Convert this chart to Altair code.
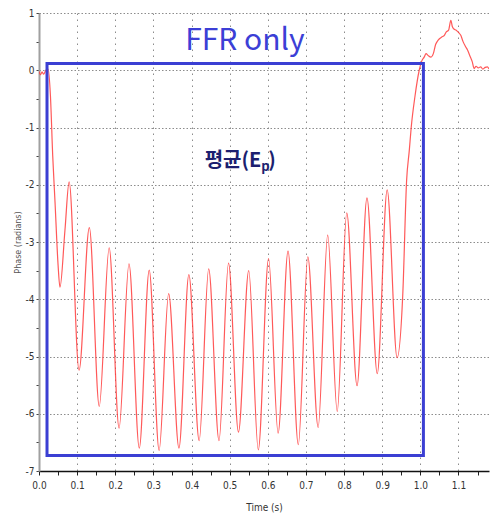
import altair as alt
import pandas as pd

# Phase trace (radians) sampled along time (s)
time_s = [
    0.000, 0.004, 0.008, 0.012, 0.018, 0.024, 0.030, 0.036, 0.042, 0.050,
    0.055, 0.068, 0.079, 0.105, 0.132, 0.158, 0.184, 0.210, 0.236, 0.263,
    0.289, 0.315, 0.340, 0.367, 0.393, 0.420, 0.445, 0.472, 0.497, 0.523,
    0.550, 0.575, 0.602, 0.627, 0.653, 0.680, 0.705, 0.732, 0.757, 0.782,
    0.807, 0.834, 0.860, 0.887, 0.913, 0.939, 0.954, 0.964, 0.971, 0.976,
    0.986, 0.997, 1.003, 1.010, 1.015, 1.020, 1.028, 1.034, 1.040, 1.044,
    1.050, 1.056, 1.063, 1.068, 1.074, 1.080, 1.084, 1.088, 1.094, 1.100,
    1.106, 1.112, 1.118, 1.124, 1.130, 1.136, 1.141, 1.146, 1.152, 1.158,
    1.164, 1.170, 1.176, 1.180,
]
phase_rad = [
    -0.02, -0.08, -0.03, -0.07, 0.00, 0.02, -0.45, -1.50, -2.30, -3.40,
    -3.79, -2.80, -1.95, -5.24, -2.75, -5.87, -3.10, -6.25, -3.38, -6.60,
    -3.49, -6.64, -3.90, -6.60, -3.57, -6.47, -3.47, -6.47, -3.37, -6.32,
    -3.50, -6.63, -3.29, -6.34, -3.16, -6.54, -3.26, -6.24, -2.88, -5.96,
    -2.49, -5.51, -2.23, -5.30, -2.09, -5.02, -3.90, -1.92, -1.40, -1.00,
    -0.45, 0.00, 0.15, 0.23, 0.29, 0.26, 0.23, 0.29, 0.45, 0.50,
    0.55, 0.58, 0.61, 0.67, 0.70, 0.87, 0.76, 0.72, 0.70, 0.66,
    0.61, 0.50, 0.42, 0.35, 0.25, 0.15, 0.03, 0.07, 0.04, 0.06,
    0.02, 0.05, 0.06, 0.02,
]

# Highlighted window
box_t_start = [0.021]
box_t_end = [1.008]
box_top = [0.12]
box_bottom = [-6.73]

# Axis tick positions
x_ticks = [0.0, 0.05, 0.1, 0.15, 0.2, 0.25, 0.3, 0.35, 0.4, 0.45, 0.5, 0.55,
           0.6, 0.65, 0.7, 0.75, 0.8, 0.85, 0.9, 0.95, 1.0, 1.05, 1.1, 1.15]
y_ticks = [-7.0, -6.5, -6.0, -5.5, -5.0, -4.5, -4.0, -3.5, -3.0, -2.5, -2.0,
           -1.5, -1.0, -0.5, 0.0, 0.5, 1.0]

# Annotations
heading_text = ["FFR only"]
heading_pos = [0.54, 0.35]
mean_main = ["평균(E"]
mean_sub = ["p"]
mean_close = [")"]
mean_pos = [0.583, -1.69]

signal = pd.DataFrame({"t": time_s, "phase": phase_rad})
box = pd.DataFrame({"t": box_t_start, "t2": box_t_end,
                    "phase": box_top, "phase2": box_bottom})

x_scale = alt.Scale(domain=[0, 1.18], nice=False, zero=False)
y_scale = alt.Scale(domain=[-7, 1], nice=False, zero=False)

tick_font = "DejaVu Sans Condensed, Liberation Sans Narrow, sans-serif"

x_major = "abs(datum.value * 10 - round(datum.value * 10)) < 0.001"
y_major = "abs(datum.value - round(datum.value)) < 0.001"

x_axis = alt.Axis(
    values=x_ticks, title="Time (s)",
    labelExpr=f"{x_major} ? format(datum.value, '.1f') : ''",
    grid=True, gridOpacity={"condition": {"test": x_major, "value": 1}, "value": 0},
    gridDash=[1.5, 4.5], gridColor="#8c8c8c", gridWidth=1,
    tickSize=4, tickColor="#222222", tickWidth=1,
    domainColor="#111111", domainWidth=1.5,
    labelFont=tick_font, labelFontSize=10, labelColor="#333333", labelPadding=5,
    labelFlush=False, labelOverlap=False,
    titleFont=tick_font, titleFontSize=10, titleColor="#333333",
    titleFontWeight="normal", titlePadding=12,
)
y_axis = alt.Axis(
    values=y_ticks, title="Phase (radians)",
    labelExpr=f"{y_major} ? '' + round(datum.value) : ''",
    grid=True, gridOpacity={"condition": {"test": y_major, "value": 1}, "value": 0},
    gridDash=[1.5, 2], gridColor="#8c8c8c", gridWidth=1,
    tickSize=3, tickColor="#444444", tickWidth=1,
    domainColor="#a0a0a0", domainWidth=2,
    labelFont=tick_font, labelFontSize=10, labelColor="#333333", labelPadding=2,
    labelFlush=False, labelOverlap=False,
    titleFont="DejaVu Sans", titleFontSize=8, titleColor="#555555",
    titleFontWeight="normal", titlePadding=3,
)

x_enc = alt.X("t:Q", scale=x_scale, axis=x_axis)
y_enc = alt.Y("phase:Q", scale=y_scale, axis=y_axis)

line = alt.Chart(signal).mark_line(
    color="#ff3c3c", strokeWidth=1.2, opacity=0.85, clip=True,
    interpolate="monotone"
).encode(x=x_enc, y=y_enc)

frame = alt.Chart(box).mark_rect(
    fill="transparent", stroke="#3b3fd3", strokeWidth=3
).encode(x=x_enc, x2="t2:Q", y=y_enc, y2="phase2:Q")

heading = alt.Chart(pd.DataFrame({
    "t": [heading_pos[0]], "phase": [heading_pos[1]], "label": heading_text
})).mark_text(
    font="Noto Sans CJK KR", fontSize=30, color="#3c3fd6",
    align="center", baseline="alphabetic"
).encode(x=x_enc, y=y_enc, text="label:N")

mean_df = pd.DataFrame({"t": [mean_pos[0]], "phase": [mean_pos[1]]})
mean_style = dict(font="Noto Sans CJK KR", fontWeight="bold", color="#1c1f70",
                  baseline="alphabetic")

mean_a = alt.Chart(mean_df.assign(label=mean_main)).mark_text(
    fontSize=20, align="right", **mean_style
).encode(x=x_enc, y=y_enc, text="label:N")
mean_b = alt.Chart(mean_df.assign(label=mean_sub)).mark_text(
    fontSize=13, align="left", dx=0, dy=4, **mean_style
).encode(x=x_enc, y=y_enc, text="label:N")
mean_c = alt.Chart(mean_df.assign(label=mean_close)).mark_text(
    fontSize=20, align="left", dx=7, **mean_style
).encode(x=x_enc, y=y_enc, text="label:N")

chart = alt.layer(line, frame, heading, mean_a, mean_b, mean_c).properties(
    width=450, height=458,
    padding={"left": 39, "top": 13, "right": 2, "bottom": 45},
    autosize=alt.AutoSizeParams(type="none"),
    background="white",
).configure_view(strokeWidth=0)

chart.save("out.html", embed_options={"renderer": "svg", "actions": False})
